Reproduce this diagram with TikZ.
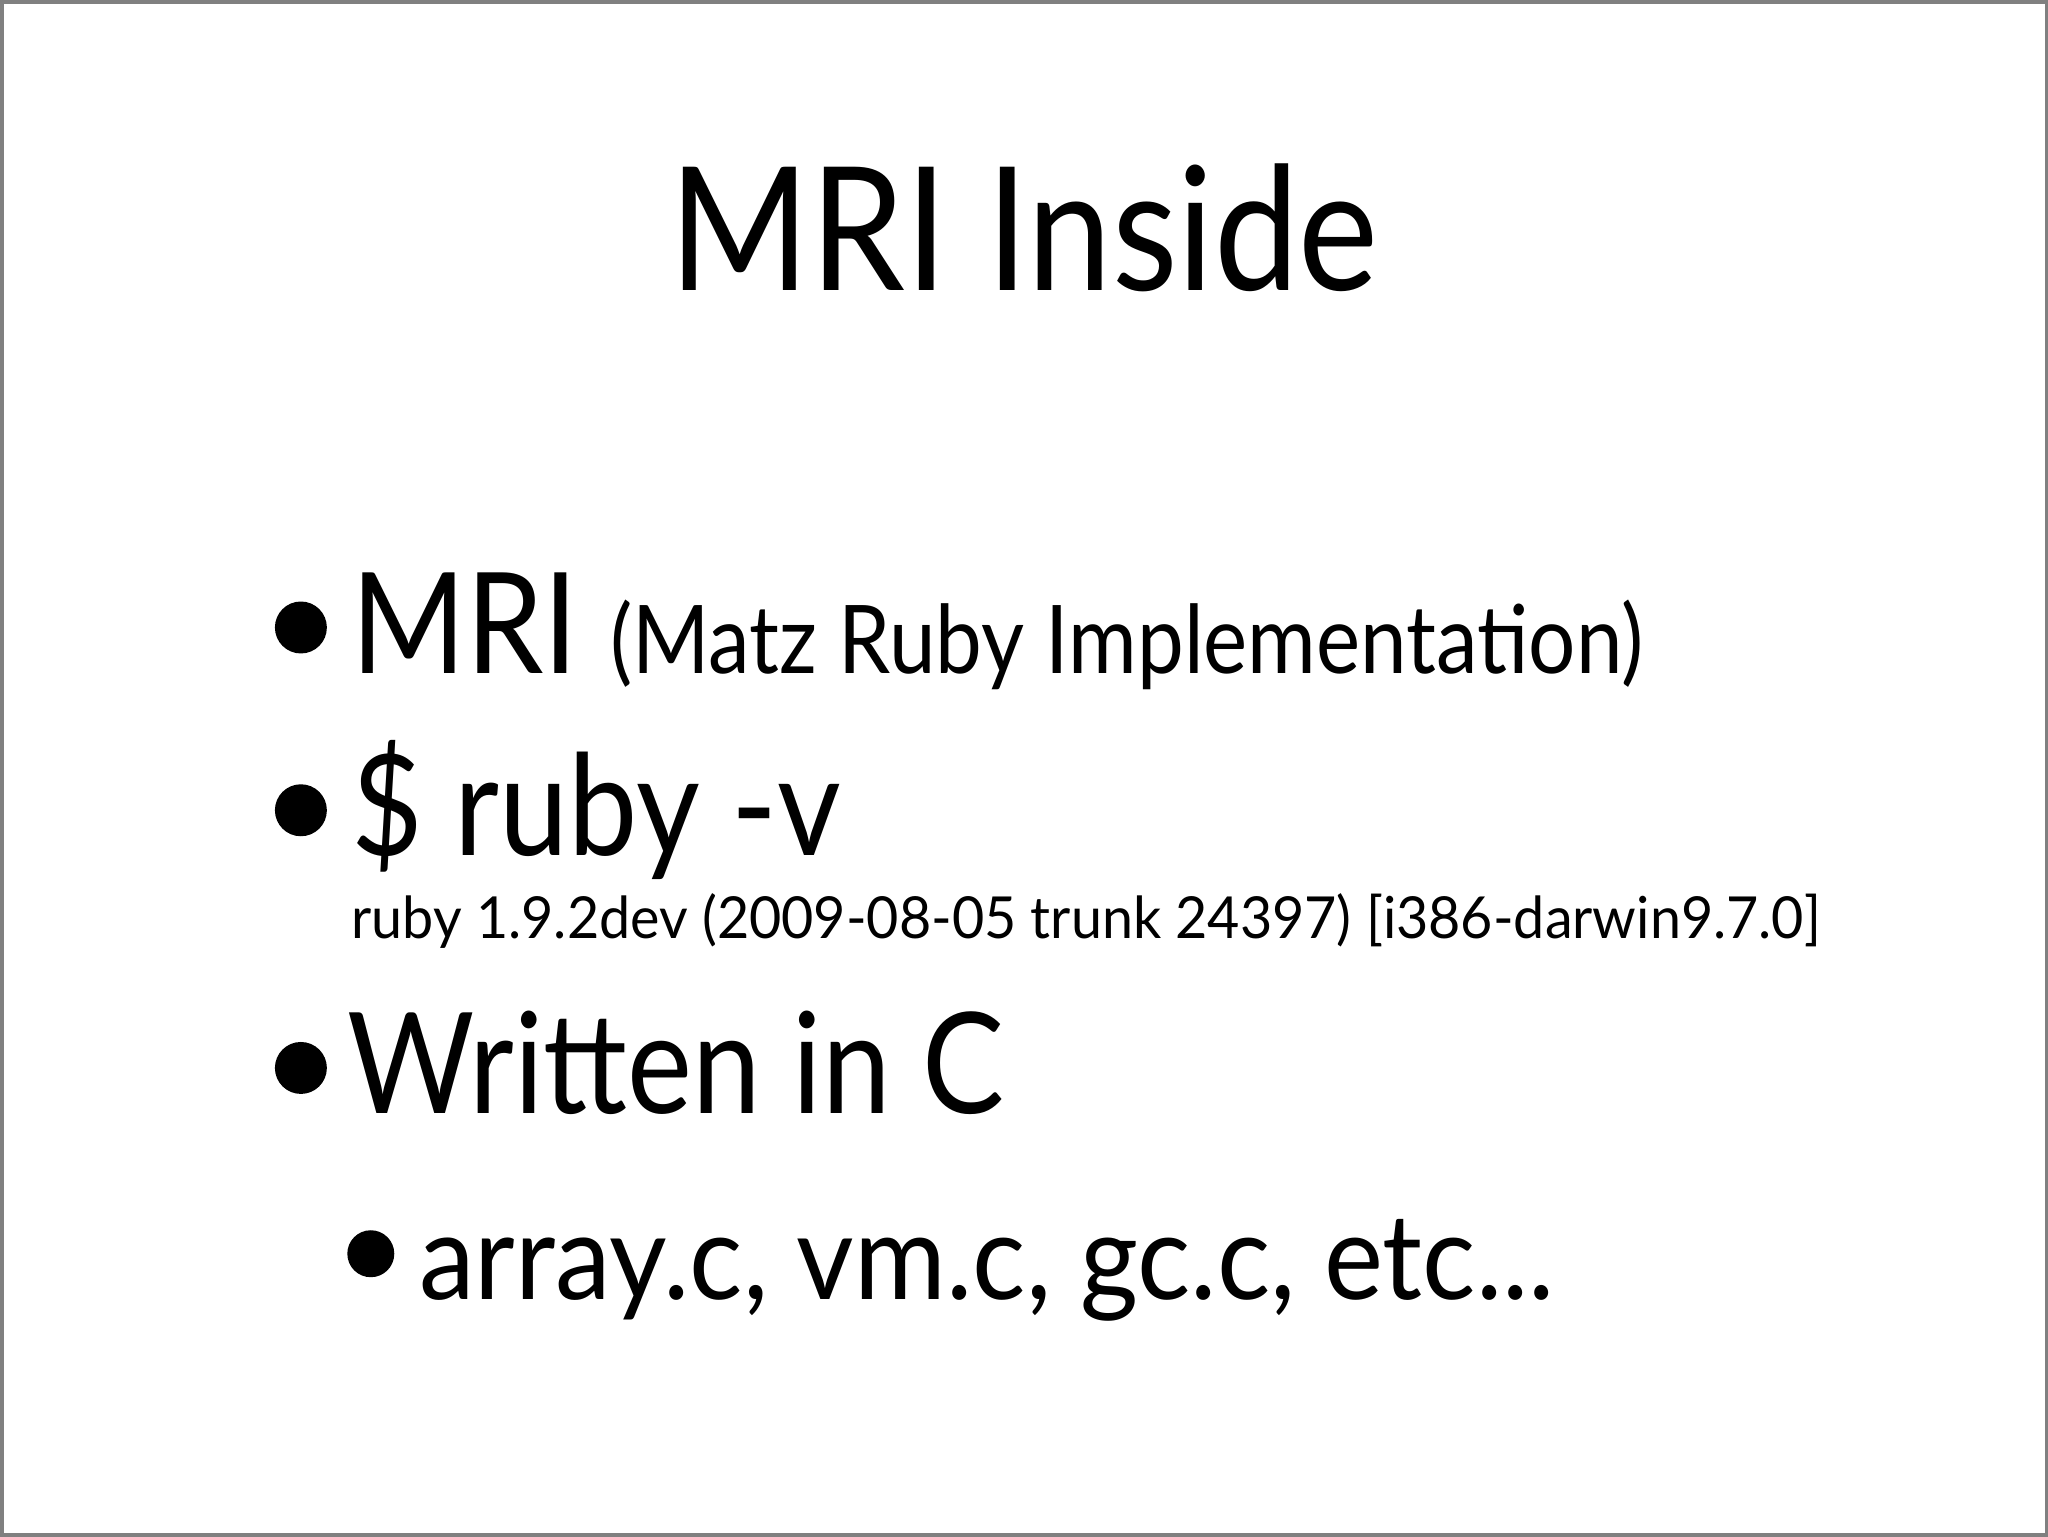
\documentclass[tikz,border=0pt]{standalone}
\usepackage{graphicx}
\usepackage{fontspec}
\setmainfont{Lato}
\tikzset{txt/.style={anchor=base west,inner sep=0pt}, bul/.style={fill=black,circle,inner sep=0pt}}
\begin{document}
\begin{tikzpicture}[x=0.01cm,y=-0.01cm]
\draw[gray,line width=1pt] (0.5,0.5) rectangle (2047.5,1535.5);
\node[anchor=base,inner sep=0pt] (title) at (1024,290) {\scalebox{0.88}[1]{\fontsize{49}{58}\selectfont MRI Inside}};
\node[bul,minimum size=0.52cm] (b1) at (300,627) {};
\node[txt] (t1) at (350,673) {\scalebox{0.88}[1]{\fontsize{40}{48}\selectfont MRI \fontsize{27}{32}\selectfont (Matz Ruby Implementation)}};
\node[bul,minimum size=0.52cm] (b2) at (300,810) {};
\node[txt] (t2) at (350,855) {\scalebox{0.88}[1]{\fontsize{40}{48}\selectfont \$ ruby -v}};
\node[txt] (t2s) at (350,938) {\scalebox{0.96}[1]{\fontsize{16.5}{20}\selectfont ruby 1.9.2dev (2009-08-05 trunk 24397) [i386-darwin9.7.0]}};
\node[bul,minimum size=0.52cm] (b3) at (300,1068) {};
\node[txt] (t3) at (346,1114) {\scalebox{0.875}[1]{\fontsize{40}{48}\selectfont Written in C}};
\node[bul,minimum size=0.47cm] (b4) at (370,1254) {};
\node[txt] (t4) at (418,1300) {\scalebox{0.935}[1]{\fontsize{34}{40}\selectfont array.c, vm.c, gc.c, etc...}};
\end{tikzpicture}
\end{document}
